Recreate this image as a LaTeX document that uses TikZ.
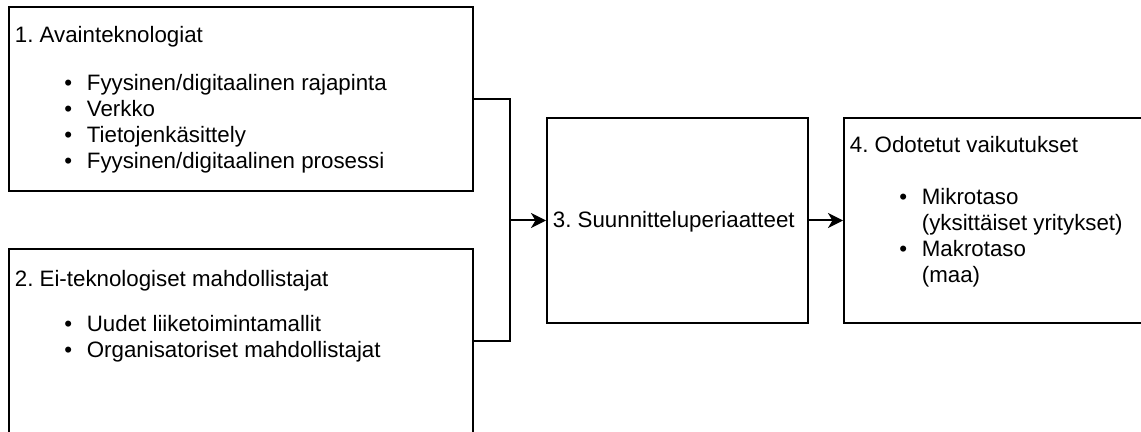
\documentclass[tikz,border=0pt]{standalone}
\usepackage{fontspec}
\setmainfont{Liberation Sans}
\usetikzlibrary{positioning,arrows.meta}

\newcommand{\bitem}[1]{\hspace*{24.75pt}\makebox[11.25pt][l]{\textbullet}#1}
\newcommand{\bcont}[1]{\hspace*{36pt}#1}

\begin{document}
\frenchspacing
\begin{tikzpicture}[x=0.5pt,y=-0.5pt,
    box/.style={draw,line width=1pt,inner sep=0pt},
    boxtext/.style={inner sep=0pt,font=\fontsize{11.15}{12.85}\selectfont},
    flow/.style={draw,line width=1pt,-{Stealth[length=7.5pt,width=7.5pt,inset=2.2pt]}}]

  \useasboundingbox (0,0) rectangle (1141,432);

  \begin{scope}[every node/.style={box}]
    \node[minimum width=232pt,minimum height=92pt]    (tech)     at (241,99)    {};
    \node[minimum width=232pt,minimum height=92pt]    (enablers) at (241,341)   {};
    \node[minimum width=130.5pt,minimum height=102.5pt] (design) at (677.5,220.5) {};
    \node[minimum width=153pt,minimum height=102.5pt] (impacts)  at (997,220.5) {};
  \end{scope}

  \begin{scope}[every node/.style={boxtext}]
    \node[below right=18.5pt and 3.25pt of tech.north west,anchor=base west] (techtext) {%
      \begin{tabular}[t]{@{}l@{}}
        1. Avainteknologiat\\[11.15pt]
        \bitem{Fyysinen/digitaalinen rajapinta}\\
        \bitem{Verkko}\\
        \bitem{Tietojenkäsittely}\\
        \bitem{Fyysinen/digitaalinen prosessi}
      \end{tabular}};
    \node[below right=19.5pt and 3.25pt of enablers.north west,anchor=base west] (enablerstext) {%
      \begin{tabular}[t]{@{}l@{}}
        2. Ei-teknologiset mahdollistajat\\[9.65pt]
        \bitem{Uudet liiketoimintamallit}\\
        \bitem{Organisatoriset mahdollistajat}
      \end{tabular}};
    \node[below right=3.75pt and 3.25pt of design.west,anchor=base west] (designtext)
      {3. Suunnitteluperiaatteet};
    \node[below right=18pt and 3.25pt of impacts.north west,anchor=base west] (impactstext) {%
      \begin{tabular}[t]{@{}l@{}}
        4. Odotetut vaikutukset\\[13.15pt]
        \bitem{Mikrotaso}\\
        \bcont{(yksittäiset yritykset)}\\
        \bitem{Makrotaso}\\
        \bcont{(maa)}
      \end{tabular}};
  \end{scope}

  \coordinate (merge) at (510,220.5);
  \draw[line width=1pt] (tech.east) -| (merge);
  \draw[line width=1pt] (enablers.east) -| (merge);
  \path[flow] (merge) -- (design.west);
  \path[flow] (design.east) -- (impacts.west);

\end{tikzpicture}
\end{document}
